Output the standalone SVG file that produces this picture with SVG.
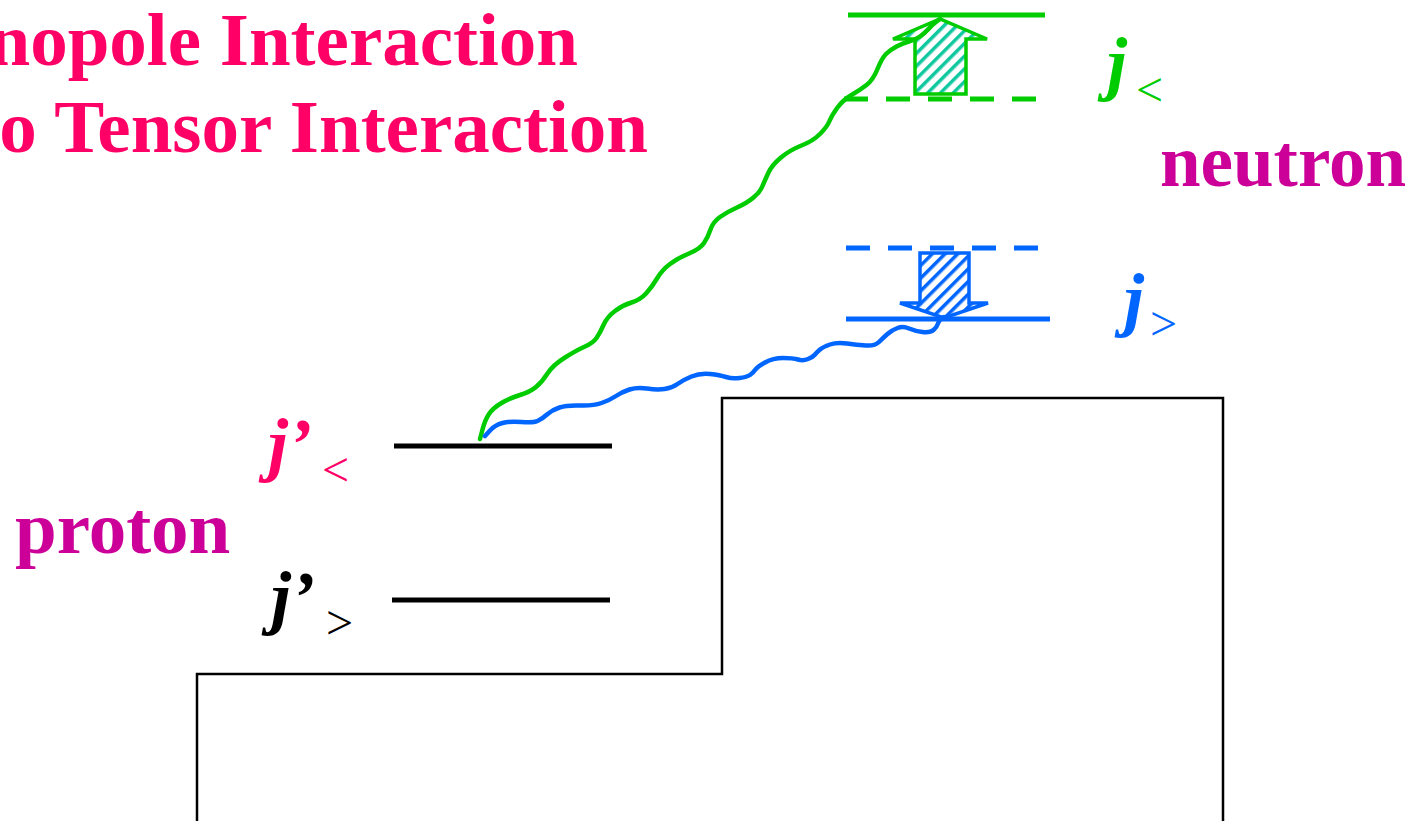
<svg xmlns="http://www.w3.org/2000/svg" width="1419" height="821" viewBox="0 0 1419 821">
  <style>
    .title { font-family: "Liberation Serif", "Times New Roman", serif; font-weight: bold; font-size: 75px; fill: #ff0066; }
    .nucleon { font-family: "Liberation Serif", "Times New Roman", serif; font-weight: bold; fill: #cc0099; }
    .j { font-family: "Liberation Serif", "Times New Roman", serif; font-weight: bold; font-style: italic; font-size: 72px; }
    .sub { font-family: "Liberation Serif", "Times New Roman", serif; font-size: 48px; }
    .level { stroke-width: 5; fill: none; }
    .dash { stroke-dasharray: 24 18; }
    .wave { fill: none; stroke-width: 4.5; stroke-linejoin: round; stroke-linecap: round; }
    .well { fill: none; stroke: #000; stroke-width: 2.5; }
  </style>
  <defs>
    <pattern id="hatchGreen" patternUnits="userSpaceOnUse" width="9" height="9" patternTransform="rotate(45)">
      <rect width="9" height="9" fill="#ffffff"/>
      <rect width="3.5" height="9" fill="#10c8a0"/>
    </pattern>
    <pattern id="hatchBlue" patternUnits="userSpaceOnUse" width="9" height="9" patternTransform="rotate(45)">
      <rect width="9" height="9" fill="#ffffff"/>
      <rect width="3.5" height="9" fill="#0066ff"/>
    </pattern>
  </defs>

  <!-- headings -->
  <g id="heading">
    <text class="title" x="578" y="65" text-anchor="end" font-size="74">nopole Interaction</text>
    <text class="title" x="648" y="152" text-anchor="end">o Tensor Interaction</text>
  </g>

  <!-- potential well outline -->
  <g id="well">
    <polyline class="well" points="197,821 197,674 722,674 722,398 1223,398 1223,821"/>
  </g>

  <!-- neutron levels -->
  <g id="neutron-j-lt">
    <line class="level" x1="848" y1="15" x2="1045" y2="15" stroke="#00cc00"/>
    <line class="level dash" x1="844" y1="99" x2="1040" y2="99" stroke="#00cc00"/>
    <polygon points="915,94 915,39 893,39 940,19 987,39 966,39 966,94" fill="url(#hatchGreen)" stroke="#00cc00" stroke-width="3.5"/>
    <text class="j" x="1107" y="87" fill="#00cc00">j</text>
    <text class="sub" x="1136" y="106" fill="#00cc00">&lt;</text>
  </g>

  <g id="neutron-j-gt">
    <line class="level dash" x1="846" y1="248" x2="1040" y2="248" stroke="#0066ff"/>
    <line class="level" x1="846" y1="319" x2="1050" y2="319" stroke="#0066ff"/>
    <polygon points="920,253 969,253 969,303 988,303 944,318 900,303 920,303" fill="url(#hatchBlue)" stroke="#0066ff" stroke-width="3.5"/>
    <text class="j" x="1124" y="323" fill="#0066ff" font-size="74">j</text>
    <text class="sub" x="1150" y="340" fill="#0066ff">&gt;</text>
  </g>

  <text id="neutron-label" class="nucleon" x="1160" y="186" font-size="73">neutron</text>

  <!-- proton levels -->
  <g id="proton-j-lt">
    <line class="level" x1="394" y1="446" x2="612" y2="446" stroke="#000"/>
    <text class="j" x="268" y="468" fill="#ff0066">j’</text>
    <text class="sub" x="322" y="486" fill="#ff0066">&lt;</text>
  </g>

  <g id="proton-j-gt">
    <line class="level" x1="392" y1="600" x2="610" y2="600" stroke="#000"/>
    <text class="j" x="271" y="621" fill="#000">j’</text>
    <text class="sub" x="326" y="639" fill="#000">&gt;</text>
  </g>

  <text id="proton-label" class="nucleon" x="15" y="553" font-size="75">proton</text>

  <!-- interaction lines -->
  <g id="connectors">
    <path class="wave" stroke="#00cc00" d="M480,439 L482.5,429.5 Q485,420 489,414 Q493,408 501.5,403 Q510,398 520,395 Q530,392 536,387 Q542,382 547.5,373.5 Q553,365 565,357.5 Q577,350 585,346.5 Q593,343 596.5,338 Q600,333 603.5,325 Q607,317 615,311 Q623,305 631.5,302.5 Q640,300 646,293.5 Q652,287 657,278.5 Q662,270 670,264 Q678,258 689,253.5 Q700,249 704,243 Q708,237 710.5,229.5 Q713,222 720,217 Q727,212 737,207.5 Q747,203 753.5,197.5 Q760,192 762.5,186 Q765,180 768.5,172.5 Q772,165 781,157.5 Q790,150 801.5,145.5 Q813,141 820,134 Q827,127 829.5,121 Q832,115 837.5,107.5 Q843,100 851.5,95 Q860,90 866.5,85 Q873,80 877.5,69 Q882,58 886,54 Q890,50 896.5,46.5 Q903,43 909,41.5 Q915,40 920,36.5 Q925,33 928.5,29 Q932,25 936,22 L940,19"/>
    <path class="wave" stroke="#0066ff" d="M485,436 L490,430.5 Q495,425 502.5,423 Q510,421 521.5,422 Q533,423 537.5,421 Q542,419 547,414.5 Q552,410 559.5,407.5 Q567,405 580,405.5 Q593,406 601.5,403 Q610,400 616,396 Q622,392 629.5,389.5 Q637,387 647,388.5 Q657,390 664.5,389 Q672,388 677.5,384 Q683,380 691.5,376.5 Q700,373 710,374 Q720,375 726,377 Q732,379 739.5,378 Q747,377 750,375 Q753,373 755,370 Q757,367 765,362.5 Q773,358 783,358 Q793,358 798,359.5 Q803,361 808,359 Q813,357 815,354.5 Q817,352 820,349.5 Q823,347 830,344.5 Q837,342 847,343.5 Q857,345 866,345.5 Q875,346 879,342 Q883,338 887.5,334 Q892,330 897.5,328 Q903,326 909,328.5 Q915,331 922.5,332 Q930,333 933.5,330 Q937,327 938,323.5 Q939,320 941.5,318.5 L944,317"/>
  </g>
</svg>
